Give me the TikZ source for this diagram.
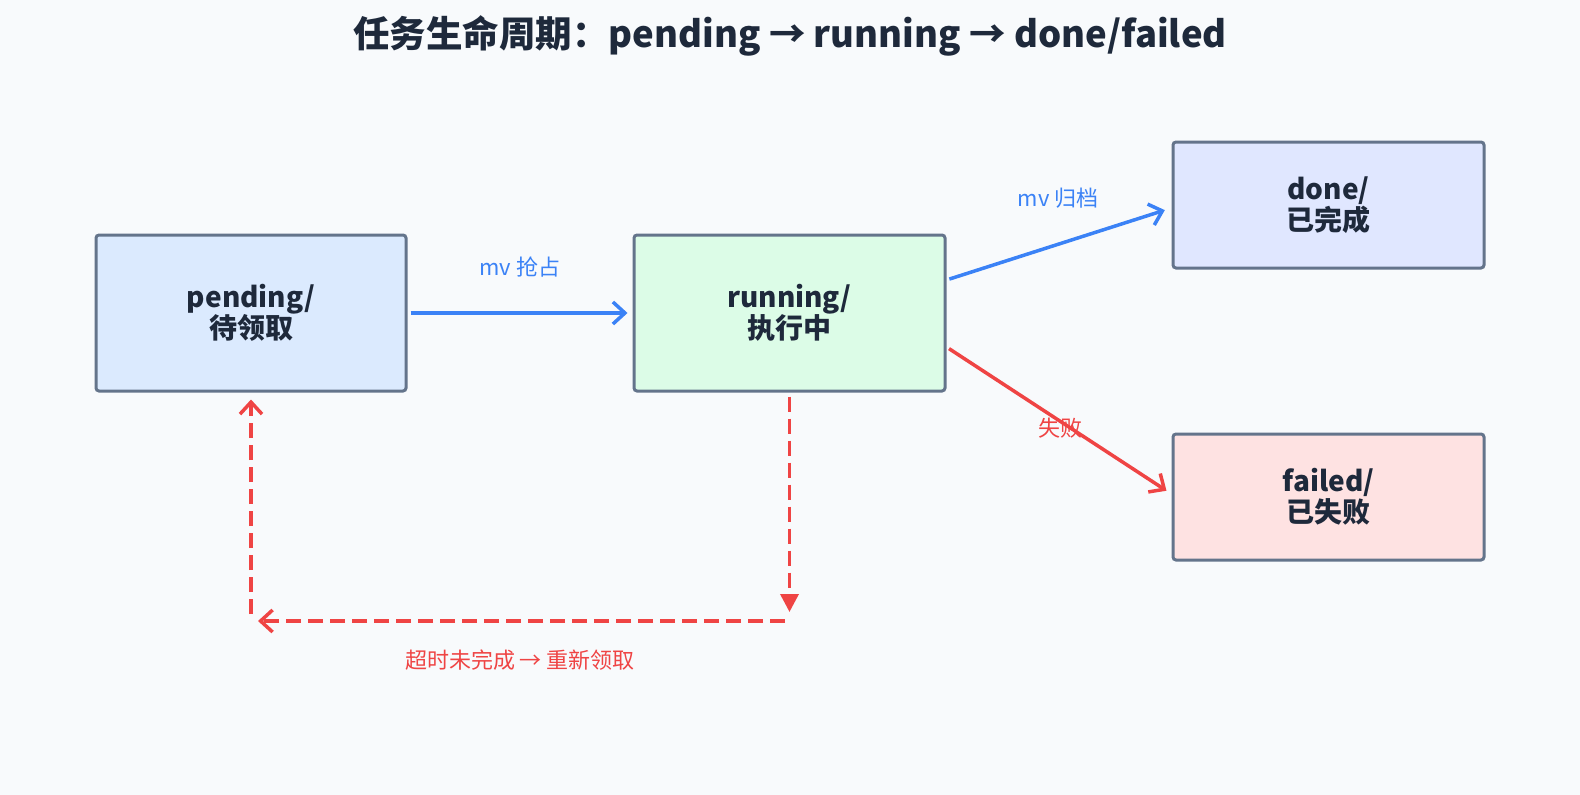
\documentclass[tikz,border=0pt]{standalone}
\usepackage{fontspec}
\setmainfont{Noto Sans CJK SC}
\usetikzlibrary{arrows.meta}
\definecolor{bgc}{HTML}{F8FAFC}
\definecolor{edgec}{HTML}{64748B}
\definecolor{txt}{HTML}{1E293B}
\definecolor{pfill}{HTML}{DBEAFE}
\definecolor{rfill}{HTML}{DCFCE7}
\definecolor{dfill}{HTML}{E0E7FF}
\definecolor{ffill}{HTML}{FEE2E2}
\definecolor{blu}{HTML}{3B82F6}
\definecolor{rd}{HTML}{EF4444}
\tikzset{
  statebox/.style={draw=edgec, line width=3pt, rounded corners=3pt, minimum width=311pt, inner sep=0pt, align=center, text=txt, font=\fontsize{28}{31}\selectfont\bfseries},
  barb/.style={-{Straight Barb[length=12pt,width=22pt,line width=3.5pt]}},
  blueedge/.style={draw=blu, line width=3.5pt, barb},
  rededge/.style={draw=rd, line width=3.5pt, barb},
  dashedge/.style={draw=rd, line width=3.5pt, dash pattern=on 15pt off 7pt},
  lbl/.style={font=\fontsize{22}{26}\selectfont},
}
\begin{document}
\begin{tikzpicture}[x=1pt,y=-1pt]
\fill[bgc] (0,0) rectangle (1580,795);
\useasboundingbox (0,0) rectangle (1580,795);
\node[text=txt, font=\fontsize{36.5}{42}\selectfont\bfseries] (title) at (790,36) {任务生命周期：pending → running → done/failed};

\node[statebox, fill=pfill, minimum height=156pt, minimum width=310pt] (pending) at (251,313) {pending/\\待领取};
\node[statebox, fill=rfill, minimum height=156pt] (running) at (789.5,313) {running/\\执行中};
\node[statebox, fill=dfill, minimum height=126pt] (done) at (1328.5,205) {done/\\已完成};
\node[statebox, fill=ffill, minimum height=126pt] (failed) at (1328.5,497) {failed/\\已失败};

\draw[blueedge, shorten <=3pt, shorten >=5pt] (pending.east) -- (running.west);
\node[lbl, text=blu] (l1) at (520,267) {mv 抢占};

\draw[blueedge, shorten <=3pt, shorten >=7pt] ([yshift=33pt]running.east) -- ([yshift=-3pt]done.west);
\node[lbl, text=blu] (l2) at (1058,198) {mv 归档};

\draw[rededge, shorten <=3pt, shorten >=6pt] ([yshift=-34pt]running.east) -- ([yshift=3pt]failed.west);
\node[lbl, text=rd] (l3) at (1060,428) {失败};

\coordinate (c1) at (789.5,612);
\coordinate (c2) at (785,621);
\coordinate (c3) at (258,621);
\coordinate (c4) at (251,614);
\draw[dashedge, -{Triangle[length=18pt,width=18pt]}, shorten <=4pt] (running.south) -- (c1);
\draw[dashedge, barb] (c2) -- (c3);
\draw[dashedge, barb, shorten >=7pt] (c4) -- (pending.south);
\node[lbl, text=rd] (l4) at (520,660) {超时未完成 → 重新领取};
\end{tikzpicture}
\end{document}
